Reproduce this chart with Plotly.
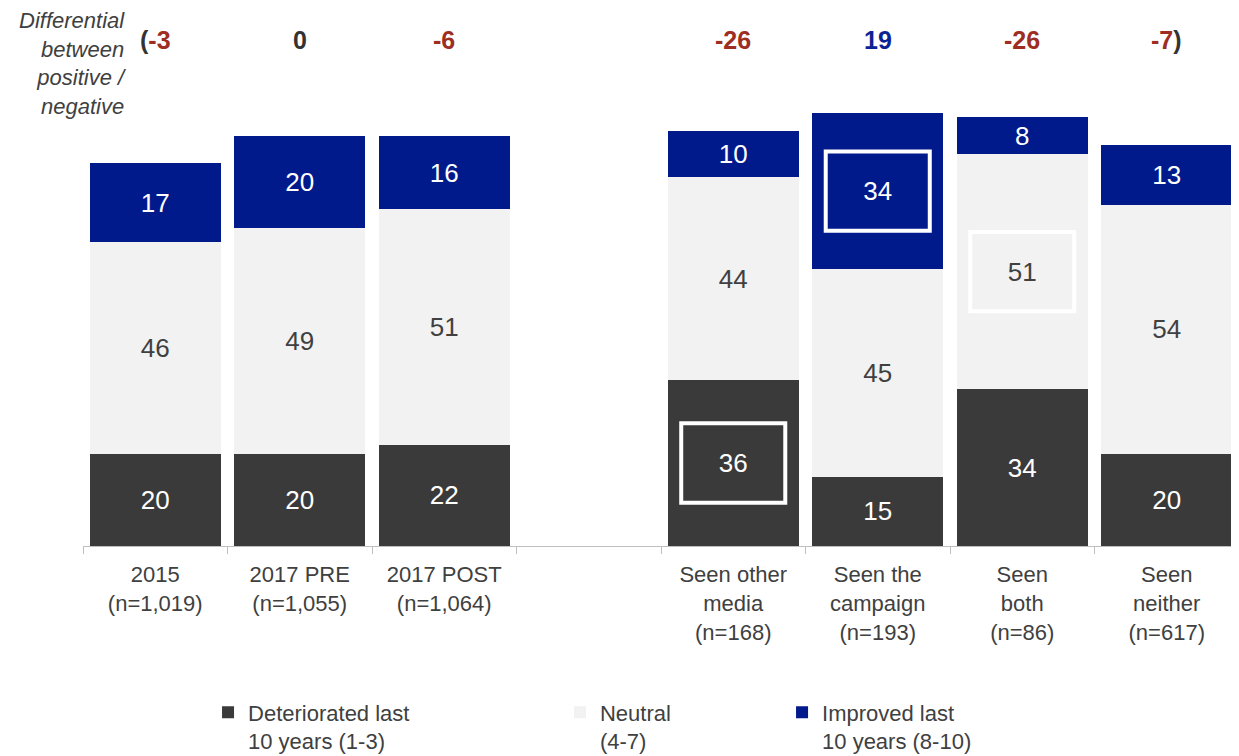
import plotly.graph_objects as go

categories = ["2015<br>(n=1,019)", "2017 PRE<br>(n=1,055)", "2017 POST<br>(n=1,064)", " ",
              "Seen other<br>media<br>(n=168)", "Seen the<br>campaign<br>(n=193)",
              "Seen<br>both<br>(n=86)", "Seen<br>neither<br>(n=617)"]
deteriorated = [20, 20, 22, None, 36, 15, 34, 20]
neutral = [46, 49, 51, None, 44, 45, 51, 54]
improved = [17, 20, 16, None, 10, 34, 8, 13]

# highlighted cells: (category index, series)
highlights = [(4, "deteriorated"), (5, "improved"), (6, "neutral")]

DARK = "#3a3a3a"
NEUTRAL = "#f2f2f2"
BLUE = "#001a8c"
RED_TXT = "#9e2d22"
BLUE_TXT = "#0b2294"
GREY_TXT = "#404040"
FONT = "Liberation Sans, Arial, sans-serif"

fig = go.Figure()
series = [
    ("Deteriorated last<br>10 years (1-3)", deteriorated, DARK, "white", "legend"),
    ("Neutral<br>(4-7)", neutral, NEUTRAL, GREY_TXT, "legend2"),
    ("Improved last<br>10 years (8-10)", improved, BLUE, "white", "legend3"),
]
for name, vals, col, tcol, lg in series:
    fig.add_trace(go.Bar(
        x=categories, y=vals, name=name, marker=dict(color=col, line=dict(width=0)),
        text=vals, texttemplate="%{y}", textposition="inside", insidetextanchor="middle",
        textfont=dict(color=tcol, size=26, family=FONT), constraintext="none",
        legend=lg, hoverinfo="skip",
    ))

# highlight boxes derived from data
bases = {"deteriorated": lambda i: 0, "neutral": lambda i: deteriorated[i],
         "improved": lambda i: deteriorated[i] + neutral[i]}
valsd = {"deteriorated": deteriorated, "neutral": neutral, "improved": improved}
shapes = []
for i, s in highlights:
    c = bases[s](i) + valsd[s][i] / 2
    shapes.append(dict(type="rect", xref="x", yref="y", x0=i - 0.36, x1=i + 0.36,
                       y0=c - 8.6, y1=c + 8.6, line=dict(color="white", width=4),
                       fillcolor="rgba(0,0,0,0)", layer="above"))

# differential annotations
ann = []
n = len(categories)
valid = [i for i in range(n) if improved[i] is not None]
for k, i in enumerate(valid):
    d = improved[i] - deteriorated[i]
    col = RED_TXT if d < 0 else (BLUE_TXT if d > 0 else "#333333")
    txt = f"<span style='color:{col}'>{d}</span>"
    if k == 0:
        txt = f"<span style='color:#333333'>(</span>" + txt
    if k == len(valid) - 1:
        txt = txt + f"<span style='color:#333333'>)</span>"
    ann.append(dict(x=i, y=1.098, xref="x", yref="paper", text=f"<b>{txt}</b>",
                    showarrow=False, font=dict(size=25, family=FONT), xanchor="center",
                    yanchor="middle"))
ann.append(dict(x=0.039, y=1.171, xref="paper", yref="paper",
                text="<i>Differential<br>between<br>positive /<br>negative</i>",
                showarrow=False, align="right", xanchor="right", yanchor="top",
                font=dict(size=22, family=FONT, color=GREY_TXT)))

legend_common = dict(orientation="h", yanchor="top", valign="top", xref="container",
                     yref="container",
                     font=dict(size=22, family=FONT, color=GREY_TXT), bgcolor="rgba(0,0,0,0)")
fig.update_layout(
    barmode="stack", bargap=0.093,
    width=1231, height=748,
    margin=dict(l=75, r=0, t=77, b=210, autoexpand=False),
    plot_bgcolor="white", paper_bgcolor="white",
    font=dict(family=FONT, color=GREY_TXT),
    showlegend=True,
    legend=dict(x=0.1625, y=0.0862, **legend_common),
    legend2=dict(x=0.4484, y=0.0862, **legend_common),
    legend3=dict(x=0.6288, y=0.0862, **legend_common),
    xaxis=dict(type="category", range=[-0.5, n - 0.5], tickson="boundaries",
               ticks="outside", ticklen=7, tickcolor="#bfbfbf", showline=True,
               linecolor="#bfbfbf", linewidth=1, showgrid=False, automargin=False,
               ticklabelstandoff=9,
               tickfont=dict(size=22, family=FONT, color=GREY_TXT)),
    yaxis=dict(range=[0, 100], visible=False, showgrid=False, automargin=False),
    shapes=shapes, annotations=ann,
)
fig.write_html("out.html")
